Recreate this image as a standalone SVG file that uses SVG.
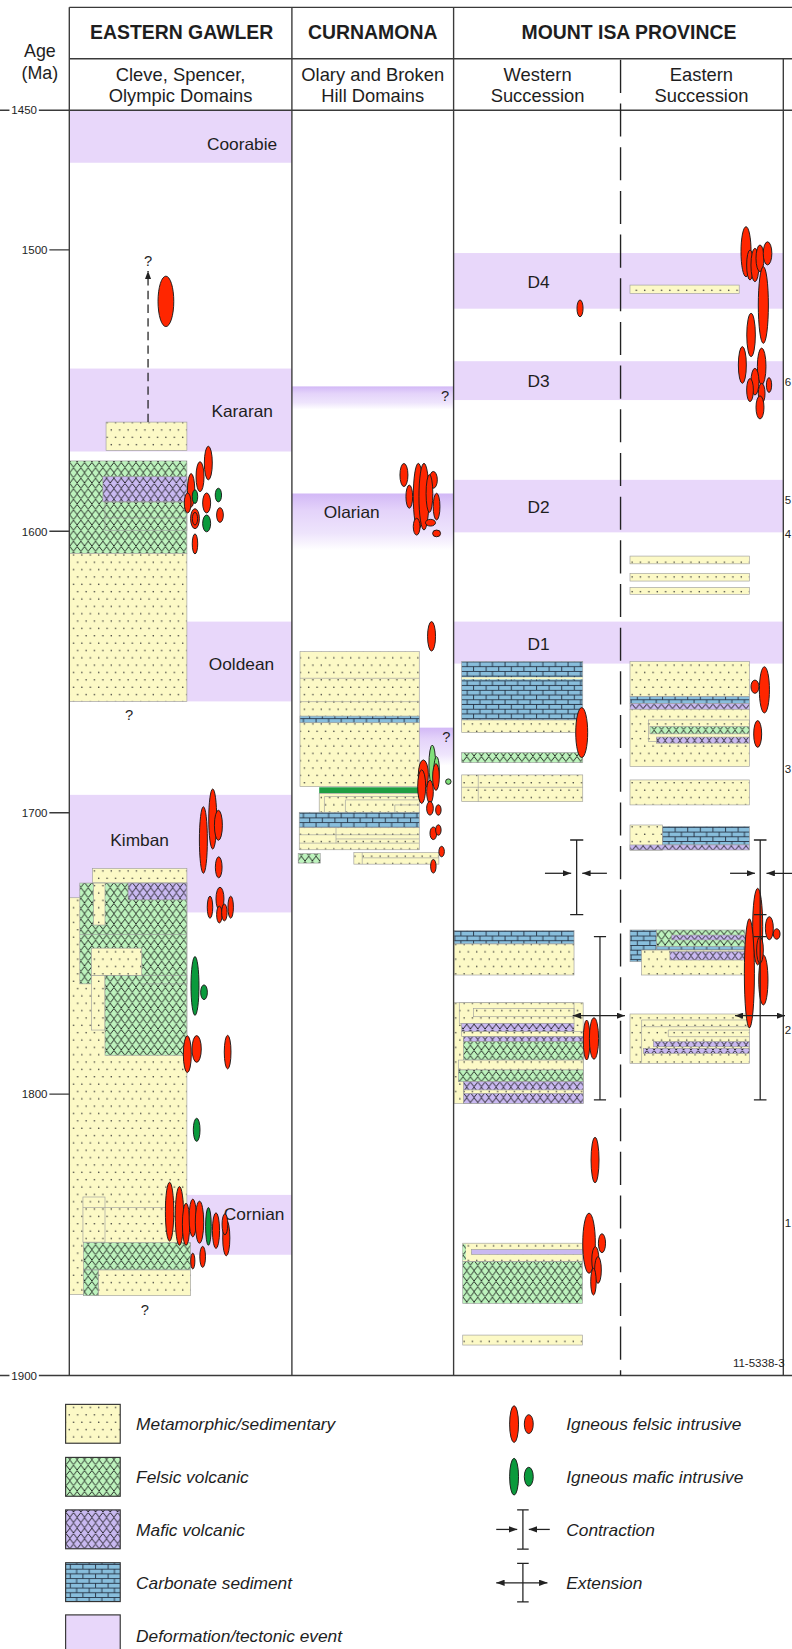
<svg xmlns="http://www.w3.org/2000/svg" width="792" height="1649" viewBox="0 0 792 1649">
<style>
.t{font-family:"Liberation Sans",Arial,Helvetica,sans-serif;fill:#1e1e1e}
.hd{font-size:18.5px;font-weight:bold;text-anchor:middle}
.sh{font-size:17.5px;text-anchor:middle}
.lb{font-size:16.5px}
.tk{font-size:11px;text-anchor:middle}
.it{font-size:16.5px;font-style:italic}
.q{font-size:14px;text-anchor:middle}
.ed{font-size:11px}
.band{fill:#e8d7fa}
.y{fill:url(#pDots)}
.f{fill:url(#pFel)}
.m{fill:url(#pMaf)}
.c{fill:url(#pCarb)}
.b{stroke:#9c9c9c;stroke-width:0.6}
.o{fill:none;stroke:#9c9c9c;stroke-width:0.6}
.r{fill:#ff2600;stroke:#1a1a1a;stroke-width:0.9}
.g{fill:#0a9a3c;stroke:#1a1a1a;stroke-width:0.9}
.ax{stroke:#3a3a3a;stroke-width:1.3;fill:none}
.sym{stroke:#222;stroke-width:1.2;fill:none}
.lgb{stroke:#333;stroke-width:1.1}
</style>
<defs>
<pattern id="pDots" width="8" height="14" patternUnits="userSpaceOnUse">
<rect width="8" height="14" fill="#fcf9c6"/>
<circle cx="2" cy="3.5" r="0.75" fill="#333"/>
<circle cx="6" cy="10.5" r="0.75" fill="#333"/>
</pattern>
<pattern id="pFel" width="7" height="10" patternUnits="userSpaceOnUse">
<rect width="7" height="10" fill="#bdf3bd"/>
<path d="M0,5 L3.5,0.5 L7,5 M-3.5,10 L0,5.5 L3.5,10 M3.5,10 L7,5.5 L10.5,10" fill="none" stroke="#111" stroke-width="0.85"/>
</pattern>
<pattern id="pMaf" width="7" height="10" patternUnits="userSpaceOnUse">
<rect width="7" height="10" fill="#c9b9f1"/>
<path d="M0,0.5 L3.5,5 L7,0.5 M-3.5,5.5 L0,10 L3.5,5.5 M3.5,5.5 L7,10 L10.5,5.5" fill="none" stroke="#111" stroke-width="0.85"/>
</pattern>
<pattern id="pCarb" width="12" height="9" patternUnits="userSpaceOnUse">
<rect width="12" height="9" fill="#88bedc"/>
<path d="M0,0.4 H12 M0,4.9 H12 M1,0.4 V4.9 M7,4.9 V9.4" stroke="#1b2535" stroke-width="0.8" fill="none"/>
</pattern>
<linearGradient id="gQ" x1="0" y1="0" x2="0" y2="1">
<stop offset="0" stop-color="#d2b8f6"/>
<stop offset="0.3" stop-color="#e4d3fa"/>
<stop offset="0.7" stop-color="#eee4fc"/>
<stop offset="1" stop-color="#ffffff"/>
</linearGradient>
<marker id="ah" viewBox="0 0 8 6" markerWidth="8" markerHeight="6" refX="8" refY="3" orient="auto" markerUnits="userSpaceOnUse">
<path d="M0,0 L8,3 L0,6 z" fill="#222"/>
</marker>
<marker id="ahs" viewBox="0 0 8 6" markerWidth="8" markerHeight="6" refX="0" refY="3" orient="auto" markerUnits="userSpaceOnUse">
<path d="M8,0 L0,3 L8,6 z" fill="#222"/>
</marker>
</defs>
<rect width="792" height="1649" fill="#ffffff"/>
<g transform="scale(1.05)">

<g id="bands">
<rect class="band" x="66" y="105" width="212" height="50"/>
<rect class="band" x="66" y="351" width="212" height="79"/>
<rect class="band" x="66" y="592" width="212" height="76"/>
<rect class="band" x="66" y="757" width="212" height="112"/>
<rect class="band" x="66" y="1138" width="212" height="57"/>
<rect class="band" x="432" y="241" width="314" height="53"/>
<rect class="band" x="432" y="344" width="314" height="37"/>
<rect class="band" x="432" y="457" width="314" height="50"/>
<rect class="band" x="432" y="592" width="314" height="40"/>
<rect fill="url(#gQ)" x="278" y="368" width="154" height="22"/>
<rect fill="url(#gQ)" x="278" y="470" width="154" height="54"/>
<rect fill="url(#gQ)" x="399" y="693" width="33" height="36"/>
<text class="t lb" x="264" y="143" text-anchor="end">Coorabie</text>
<text class="t lb" x="260" y="397" text-anchor="end">Kararan</text>
<text class="t lb" x="230" y="638" text-anchor="middle">Ooldean</text>
<text class="t lb" x="133" y="806" text-anchor="middle">Kimban</text>
<text class="t lb" x="242" y="1162" text-anchor="middle">Cornian</text>
<text class="t lb" x="335" y="493" text-anchor="middle">Olarian</text>
<text class="t lb" x="513" y="274" text-anchor="middle">D4</text>
<text class="t lb" x="513" y="369" text-anchor="middle">D3</text>
<text class="t lb" x="513" y="489" text-anchor="middle">D2</text>
<text class="t lb" x="513" y="619" text-anchor="middle">D1</text>
</g>

<g id="eastern-gawler">
<rect class="y b" x="101" y="402" width="77" height="27"/>
<rect class="f b" x="66" y="439" width="112" height="88"/>
<rect class="m b" x="98" y="454" width="80" height="24"/>
<rect class="o" x="100" y="478" width="78" height="27"/>
<line class="o" x1="100" y1="493" x2="178" y2="493"/>
<rect class="y b" x="66" y="527" width="112" height="141"/>
<rect class="y b" x="66" y="855" width="112" height="378"/>
<rect class="y b" x="88" y="827" width="90" height="14"/>
<rect class="f b" x="76" y="841" width="102" height="96"/>
<rect class="m b" x="122" y="841" width="56" height="16"/>
<rect class="y b" x="89" y="841" width="11" height="40"/>
<rect class="y b" x="87" y="903" width="48" height="26"/>
<rect class="y b" x="87" y="929" width="13" height="52"/>
<rect class="f b" x="100" y="929" width="78" height="76"/>
<line class="o" x1="76" y1="890" x2="178" y2="890"/>
<line class="o" x1="135" y1="937" x2="178" y2="937"/>
<rect class="o" x="79" y="1140" width="21" height="43"/>
<line class="o" x1="79" y1="1150" x2="178" y2="1150"/>
<rect class="f b" x="79.5" y="1183.5" width="102" height="26"/>
<rect class="y b" x="93.5" y="1209.5" width="88" height="24.5"/>
<rect class="f b" x="79.5" y="1209.5" width="14" height="24.5"/>
<ellipse class="r" cx="158" cy="287" rx="7.5" ry="24"/>
<ellipse class="r" cx="198.4" cy="441" rx="3.8" ry="16"/>
<ellipse class="r" cx="190.5" cy="454" rx="3.8" ry="14.3"/>
<ellipse class="r" cx="182" cy="467" rx="3.5" ry="16"/>
<ellipse class="r" cx="178.7" cy="479" rx="3.2" ry="9.5"/>
<ellipse class="r" cx="196.8" cy="479" rx="3.8" ry="9.5"/>
<ellipse class="r" cx="185.7" cy="494" rx="4.2" ry="9.5"/>
<ellipse class="r" cx="185.7" cy="494" rx="2.5" ry="6"/>
<ellipse class="r" cx="209.5" cy="490.5" rx="3.2" ry="7"/>
<ellipse class="r" cx="185.7" cy="518" rx="2.6" ry="9.5"/>
<ellipse class="g" cx="185.7" cy="473" rx="2.6" ry="6.5"/>
<ellipse class="g" cx="208" cy="471.5" rx="3" ry="6.5"/>
<ellipse class="g" cx="196.8" cy="498.5" rx="3.8" ry="8"/>
<ellipse class="r" cx="193.7" cy="800" rx="3.8" ry="31.7"/>
<ellipse class="r" cx="202.6" cy="780" rx="3.8" ry="28.6"/>
<ellipse class="r" cx="208" cy="786" rx="3.8" ry="14.3"/>
<ellipse class="r" cx="208.3" cy="826" rx="3.2" ry="10"/>
<ellipse class="r" cx="200" cy="864" rx="2.6" ry="10.5"/>
<ellipse class="r" cx="209.5" cy="856" rx="3.8" ry="11"/>
<ellipse class="r" cx="208.9" cy="871" rx="2.6" ry="8"/>
<ellipse class="r" cx="213.7" cy="869" rx="2.6" ry="8"/>
<ellipse class="r" cx="219.7" cy="864" rx="2.6" ry="10.5"/>
<ellipse class="g" cx="185.7" cy="939" rx="3.8" ry="28"/>
<ellipse class="g" cx="194.3" cy="945" rx="3.2" ry="7"/>
<ellipse class="r" cx="178.4" cy="1004" rx="3.8" ry="17.5"/>
<ellipse class="r" cx="187.3" cy="999" rx="4.4" ry="12.7"/>
<ellipse class="r" cx="216.8" cy="1002" rx="3.2" ry="16"/>
<ellipse class="g" cx="187.3" cy="1076" rx="3.2" ry="11"/>
<ellipse class="r" cx="161.5" cy="1154" rx="4" ry="28"/>
<ellipse class="r" cx="170.9" cy="1158" rx="4" ry="28"/>
<ellipse class="r" cx="177.2" cy="1166" rx="3.5" ry="20"/>
<ellipse class="r" cx="183.6" cy="1160" rx="3.5" ry="18"/>
<ellipse class="r" cx="190" cy="1164" rx="4" ry="20"/>
<ellipse class="g" cx="198.5" cy="1168" rx="2.7" ry="18"/>
<ellipse class="r" cx="205.7" cy="1172" rx="3.4" ry="17"/>
<ellipse class="r" cx="215.5" cy="1179" rx="3.4" ry="17"/>
<ellipse class="r" cx="214.2" cy="1166" rx="2.7" ry="10"/>
<ellipse class="r" cx="183.6" cy="1201" rx="2" ry="7.5"/>
<ellipse class="r" cx="193" cy="1197" rx="2.7" ry="10"/>
<text class="t q" x="141" y="253">?</text>
<text class="t q" x="123" y="686">?</text>
<text class="t q" x="138" y="1252">?</text>
</g>

<g id="curnamona">
<rect class="y b" x="285.7" y="620.6" width="113.6" height="128.6"/>
<line class="o" x1="285.7" y1="646" x2="399.3" y2="646"/>
<line class="o" x1="285.7" y1="668.2" x2="399.3" y2="668.2"/>
<rect class="c b" x="285.7" y="682" width="113.6" height="6.3"/>
<rect fill="#1e9e42" x="304" y="749.8" width="95.3" height="5.8"/>
<rect class="y b" x="304" y="755.6" width="95.3" height="19"/>
<path class="o" d="M309,774 V758.6 H399 M329,774 V761.8 H399 M376,774 V766.6 H399"/>
<rect class="c b" x="285" y="773.6" width="114.3" height="14.7"/>
<rect class="y b" x="285" y="788.3" width="114.3" height="21"/>
<path class="o" d="M285,795 H399 M320,799 H399 M285,803 H399 M320,788.3 V803"/>
<rect class="f b" x="284" y="813" width="21" height="9"/>
<rect class="y b" x="337" y="812" width="81" height="11"/>
<path class="o" d="M345,817 H418 M345,812 V823"/>
<ellipse class="r" cx="384.7" cy="452.4" rx="3.8" ry="11"/>
<ellipse class="r" cx="389.8" cy="473" rx="3.2" ry="11"/>
<ellipse class="r" cx="398.4" cy="473" rx="4.8" ry="31.7"/>
<ellipse class="r" cx="403.8" cy="473" rx="4.8" ry="31.7"/>
<ellipse class="r" cx="412.7" cy="457" rx="3.8" ry="8"/>
<ellipse class="r" cx="409" cy="470" rx="3.2" ry="18"/>
<ellipse class="r" cx="415.8" cy="482.5" rx="3.2" ry="12.7"/>
<ellipse class="r" cx="396.8" cy="501.6" rx="3.2" ry="8"/>
<ellipse class="r" cx="410" cy="497.8" rx="4.8" ry="3.2"/>
<ellipse class="r" cx="415.8" cy="508" rx="3.8" ry="3.2"/>
<ellipse class="r" cx="411" cy="606" rx="3.8" ry="14"/>
<ellipse class="g" cx="411.7" cy="728.6" rx="3.2" ry="19" style="fill:#7fe07a"/>
<ellipse class="g" cx="415.8" cy="733.3" rx="2.6" ry="12.7" style="fill:#7fe07a"/>
<ellipse class="g" cx="427" cy="744.4" rx="2.6" ry="2.6" style="fill:#7fe07a"/>
<ellipse class="r" cx="403.2" cy="738" rx="4.8" ry="14.3"/>
<ellipse class="r" cx="401.6" cy="749.2" rx="3.8" ry="16"/>
<ellipse class="r" cx="409.5" cy="754" rx="3.2" ry="11"/>
<ellipse class="r" cx="415.2" cy="740" rx="3.2" ry="12.7"/>
<ellipse class="r" cx="409.5" cy="769.8" rx="3.2" ry="6.5"/>
<ellipse class="r" cx="417.5" cy="771.4" rx="2.6" ry="5"/>
<ellipse class="r" cx="412.7" cy="793.6" rx="3.2" ry="6"/>
<ellipse class="r" cx="417.5" cy="790.5" rx="2.6" ry="5"/>
<ellipse class="r" cx="420.6" cy="811" rx="2.6" ry="5"/>
<ellipse class="r" cx="412.7" cy="825" rx="2.6" ry="6.5"/>
<text class="t q" x="424" y="382">?</text>
<text class="t q" x="425" y="707">?</text>
</g>

<g id="western-succession">
<rect class="c b" x="439.7" y="630" width="115.3" height="55.7"/>
<rect class="y" x="439.7" y="645" width="115.3" height="2"/>
<rect class="y b" x="439.7" y="685.7" width="115.3" height="12"/>
<rect class="f b" x="439.7" y="716.8" width="115.3" height="9.5"/>
<rect class="y b" x="439.7" y="738" width="115.3" height="25.5"/>
<path class="o" d="M439.7,749.8 H555 M455.5,738 V763.5"/>
<rect class="c b" x="432.4" y="886.3" width="114.3" height="12.7"/>
<rect class="y b" x="432.4" y="899" width="114.3" height="29.6"/>
<rect class="y b" x="432.4" y="955" width="123" height="96"/>
<rect class="y b" x="437.4" y="955" width="109.3" height="19.6"/>
<rect class="o" x="450.8" y="960.3" width="95.9" height="8"/>
<rect class="m b" x="439.7" y="974.6" width="107" height="7.9"/>
<rect class="y b" x="439.7" y="982.5" width="115.8" height="4.8"/>
<rect class="m b" x="441.3" y="987.3" width="114.2" height="4.7"/>
<rect class="f b" x="441.3" y="992" width="114.2" height="17.6"/>
<rect class="y b" x="436.5" y="1009.6" width="119" height="9.4"/>
<rect class="f b" x="436.5" y="1019" width="119" height="11.2"/>
<rect class="m b" x="441.3" y="1030.2" width="114.2" height="20.6"/>
<rect class="y b" x="441.3" y="1038" width="114.2" height="3.3"/>
<ellipse class="r" cx="558.7" cy="990.5" rx="3.2" ry="19"/>
<ellipse class="r" cx="565.7" cy="989" rx="4.4" ry="19.7"/>
<ellipse class="r" cx="566.7" cy="1104.8" rx="3.8" ry="21.6"/>
<ellipse class="r" cx="552.4" cy="293.7" rx="2.9" ry="8"/>
<ellipse class="r" cx="554" cy="697.7" rx="5.7" ry="23.8"/>
<rect class="y b" x="440.7" y="1184" width="114" height="17.6"/>
<rect fill="#c9b9f1" class="b" x="449" y="1190" width="105.6" height="4.6"/>
<rect class="f" x="440.7" y="1185" width="3" height="15"/>
<rect class="f b" x="440.7" y="1201.6" width="114" height="39.7"/>
<rect class="y b" x="440.7" y="1271.5" width="114" height="9.5"/>
<ellipse class="r" cx="561" cy="1184" rx="6" ry="28.6"/>
<ellipse class="r" cx="573.3" cy="1184" rx="3.4" ry="9"/>
<ellipse class="r" cx="567" cy="1200" rx="3.4" ry="12.7"/>
<ellipse class="r" cx="569.5" cy="1209.5" rx="3.2" ry="12.7"/>
<ellipse class="r" cx="565.2" cy="1220.7" rx="2.6" ry="12.7"/>
</g>

<g id="eastern-succession">
<rect class="y b" x="600" y="271.5" width="104" height="8"/>
<rect class="y b" x="600" y="529.6" width="113.7" height="7.4"/>
<rect class="y b" x="600" y="546" width="113.7" height="7.4"/>
<rect class="y b" x="600" y="559.4" width="113.7" height="6.6"/>
<rect class="y b" x="600" y="630" width="113.7" height="33.5"/>
<rect class="c b" x="600" y="663.5" width="113.7" height="6.5"/>
<rect class="m b" x="600" y="670" width="113.7" height="5.5"/>
<rect class="y b" x="600" y="675.5" width="113.7" height="54.5"/>
<rect class="o" x="617.5" y="685.7" width="96.2" height="20.6"/>
<rect class="f b" x="619" y="692" width="94.7" height="6.9"/>
<rect class="m b" x="625.4" y="702" width="88.3" height="5.8"/>
<rect class="y b" x="600" y="742.8" width="113.7" height="23.8"/>
<rect class="y b" x="600" y="785.7" width="31" height="24"/>
<rect class="c b" x="631" y="787" width="82.7" height="17.7"/>
<rect class="m b" x="600" y="804.7" width="113.7" height="4.8"/>
<rect class="c b" x="600" y="885.7" width="25.4" height="30.2"/>
<rect class="f b" x="625.4" y="885.7" width="84" height="16"/>
<rect class="m b" x="639.7" y="890.5" width="70" height="4.7"/>
<rect class="c b" x="625.4" y="901.6" width="84" height="3.2"/>
<rect class="y b" x="611" y="904.8" width="98.5" height="23.8"/>
<rect class="m b" x="638" y="906.3" width="71.5" height="8"/>
<rect class="y b" x="600" y="965.7" width="113.7" height="47"/>
<path class="o" d="M611,1012 V971.4 H713.7 M611,977.8 H713.7 M636.5,987.3 V981 H713.7 M636.5,987.3 H713.7"/>
<rect class="m b" x="622.2" y="992" width="91.5" height="4.9"/>
<rect class="m b" x="612.7" y="998.4" width="101" height="4.8"/>
<ellipse class="r" cx="710.5" cy="239.7" rx="4.8" ry="23.8"/>
<ellipse class="r" cx="714.3" cy="252.4" rx="3.2" ry="14.3"/>
<ellipse class="r" cx="719" cy="252.4" rx="3.8" ry="15.9"/>
<ellipse class="r" cx="723.8" cy="246" rx="3.8" ry="12.7"/>
<ellipse class="r" cx="731" cy="241.3" rx="4.1" ry="11"/>
<ellipse class="r" cx="727" cy="290.5" rx="4.8" ry="36.5"/>
<ellipse class="r" cx="715.3" cy="319" rx="4.1" ry="20.6"/>
<ellipse class="r" cx="707" cy="347.6" rx="3.8" ry="17.5"/>
<ellipse class="r" cx="725.4" cy="349" rx="4.1" ry="17.5"/>
<ellipse class="r" cx="719" cy="363.5" rx="3.8" ry="12.7"/>
<ellipse class="r" cx="714.3" cy="371.5" rx="3.2" ry="11"/>
<ellipse class="r" cx="732.4" cy="366.7" rx="2.5" ry="7"/>
<ellipse class="r" cx="725.4" cy="374.6" rx="3.2" ry="9.5"/>
<ellipse class="r" cx="723.8" cy="388" rx="3.8" ry="11"/>
<ellipse class="r" cx="728" cy="657" rx="4.8" ry="22"/>
<ellipse class="r" cx="719" cy="654" rx="3.8" ry="6.3"/>
<ellipse class="r" cx="721.6" cy="699" rx="3.8" ry="12.7"/>
<ellipse class="r" cx="721.6" cy="882.5" rx="4.8" ry="36.5"/>
<ellipse class="r" cx="713.7" cy="927" rx="4.8" ry="52"/>
<ellipse class="r" cx="727" cy="933.3" rx="4.4" ry="23.8"/>
<ellipse class="r" cx="723.8" cy="904.8" rx="3.2" ry="12.7"/>
<ellipse class="r" cx="732.7" cy="884" rx="3.8" ry="11"/>
<ellipse class="r" cx="739.7" cy="889.5" rx="3.2" ry="5"/>
</g>

<g id="frame">
<path class="ax" d="M66,7 H760 M66,56 H760 M0,105 H760 M0,1310 H760"/>
<path class="ax" d="M66,7 V1310 M278,7 V1310 M432,7 V1310 M746,56 V1310"/>
<line x1="591" y1="57" x2="591" y2="1310" stroke="#222" stroke-width="1.3" stroke-dasharray="31.5,10.1"/>
<rect x="9" y="98" width="28" height="14" fill="#fff"/>
<rect x="9" y="1303" width="28" height="14" fill="#fff"/>
<path class="ax" d="M47,238 H66 M47,506 H66 M47,774 H66 M47,1042 H66"/>
<text class="t tk" x="23" y="109">1450</text>
<text class="t tk" x="33" y="242">1500</text>
<text class="t tk" x="33" y="510">1600</text>
<text class="t tk" x="33" y="778">1700</text>
<text class="t tk" x="33" y="1046">1800</text>
<text class="t tk" x="23" y="1314">1900</text>
<text class="t" x="38" y="54" font-size="17" text-anchor="middle">Age</text>
<text class="t" x="38" y="75" font-size="17" text-anchor="middle">(Ma)</text>
<text class="t hd" x="173" y="37">EASTERN GAWLER</text>
<text class="t hd" x="355" y="37">CURNAMONA</text>
<text class="t hd" x="599" y="37">MOUNT ISA PROVINCE</text>
<text class="t sh" x="172" y="77">Cleve, Spencer,</text>
<text class="t sh" x="172" y="97">Olympic Domains</text>
<text class="t sh" x="355" y="77">Olary and Broken</text>
<text class="t sh" x="355" y="97">Hill Domains</text>
<text class="t sh" x="512" y="77">Western</text>
<text class="t sh" x="512" y="97">Succession</text>
<text class="t sh" x="668" y="77">Eastern</text>
<text class="t sh" x="668" y="97">Succession</text>
<text class="t ed" x="747.5" y="368">6</text>
<text class="t ed" x="747.5" y="480">5</text>
<text class="t ed" x="747.5" y="512">4</text>
<text class="t ed" x="747.5" y="736">3</text>
<text class="t ed" x="747.5" y="985">2</text>
<text class="t ed" x="747.5" y="1169">1</text>
<text class="t" x="698" y="1302" font-size="11">11-5338-3</text>
</g>

<g id="connectors">
<line class="sym" x1="141" y1="402" x2="141" y2="258" stroke-dasharray="8,5" marker-end="url(#ah)"/>
<path class="sym" d="M549.2,800 V871 M543,800 H555.5 M543,871 H555.5"/>
<line class="sym" x1="519" y1="831.7" x2="544" y2="831.7" marker-end="url(#ah)"/>
<line class="sym" x1="578" y1="831.7" x2="554.5" y2="831.7" marker-end="url(#ah)"/>
<path class="sym" d="M571.4,892 V1047.6 M565.6,892 H577.2 M565.6,1047.6 H577.2"/>
<line class="sym" x1="545.4" y1="967.3" x2="595.2" y2="967.3" marker-start="url(#ahs)" marker-end="url(#ah)"/>
<path class="sym" d="M724,800 V1047.6 M718,800 H730 M718,871 H730 M718,892 H730 M718,1047.6 H730"/>
<line class="sym" x1="695.3" y1="831.7" x2="719" y2="831.7" marker-end="url(#ah)"/>
<line class="sym" x1="762" y1="831.7" x2="730" y2="831.7" marker-end="url(#ah)"/>
<line class="sym" x1="700" y1="967.3" x2="747.6" y2="967.3" marker-start="url(#ahs)" marker-end="url(#ah)"/>
</g>

<g id="legend">
<rect class="y lgb" x="62.5" y="1337.5" width="52" height="37"/>
<rect class="f lgb" x="62.5" y="1388" width="52" height="37"/>
<rect class="m lgb" x="62.5" y="1438" width="52" height="37"/>
<rect class="c lgb" x="62.5" y="1488.3" width="52" height="37"/>
<rect class="band lgb" x="62.5" y="1538" width="52" height="37"/>
<text class="t it" x="129.6" y="1362.3">Metamorphic/sedimentary</text>
<text class="t it" x="129.6" y="1412.4">Felsic volcanic</text>
<text class="t it" x="129.6" y="1463.2">Mafic volcanic</text>
<text class="t it" x="129.6" y="1513.4">Carbonate sediment</text>
<text class="t it" x="129.6" y="1564.2">Deformation/tectonic event</text>
<ellipse class="r" cx="489.6" cy="1356.3" rx="4.25" ry="17.5"/>
<ellipse class="r" cx="503.6" cy="1356.3" rx="4.25" ry="9"/>
<ellipse class="g" cx="489.6" cy="1406.4" rx="4.25" ry="17.5"/>
<ellipse class="g" cx="503.6" cy="1406.4" rx="4.25" ry="9"/>
<path class="sym" d="M498,1438 V1475.3 M492.5,1438 H503.5 M492.5,1475.3 H503.5"/>
<line class="sym" x1="472.6" y1="1456.6" x2="492.6" y2="1456.6" marker-end="url(#ah)"/>
<line class="sym" x1="523.6" y1="1456.6" x2="503.6" y2="1456.6" marker-end="url(#ah)"/>
<path class="sym" d="M498,1489 V1525.5 M492.5,1489 H503.5 M492.5,1525.5 H503.5"/>
<line class="sym" x1="472.6" y1="1507.4" x2="521.4" y2="1507.4" marker-start="url(#ahs)" marker-end="url(#ah)"/>
<text class="t it" x="539.3" y="1362.3">Igneous felsic intrusive</text>
<text class="t it" x="539.3" y="1412.4">Igneous mafic intrusive</text>
<text class="t it" x="539.3" y="1463.2">Contraction</text>
<text class="t it" x="539.3" y="1513.4">Extension</text>
</g>
</g>
</svg>
